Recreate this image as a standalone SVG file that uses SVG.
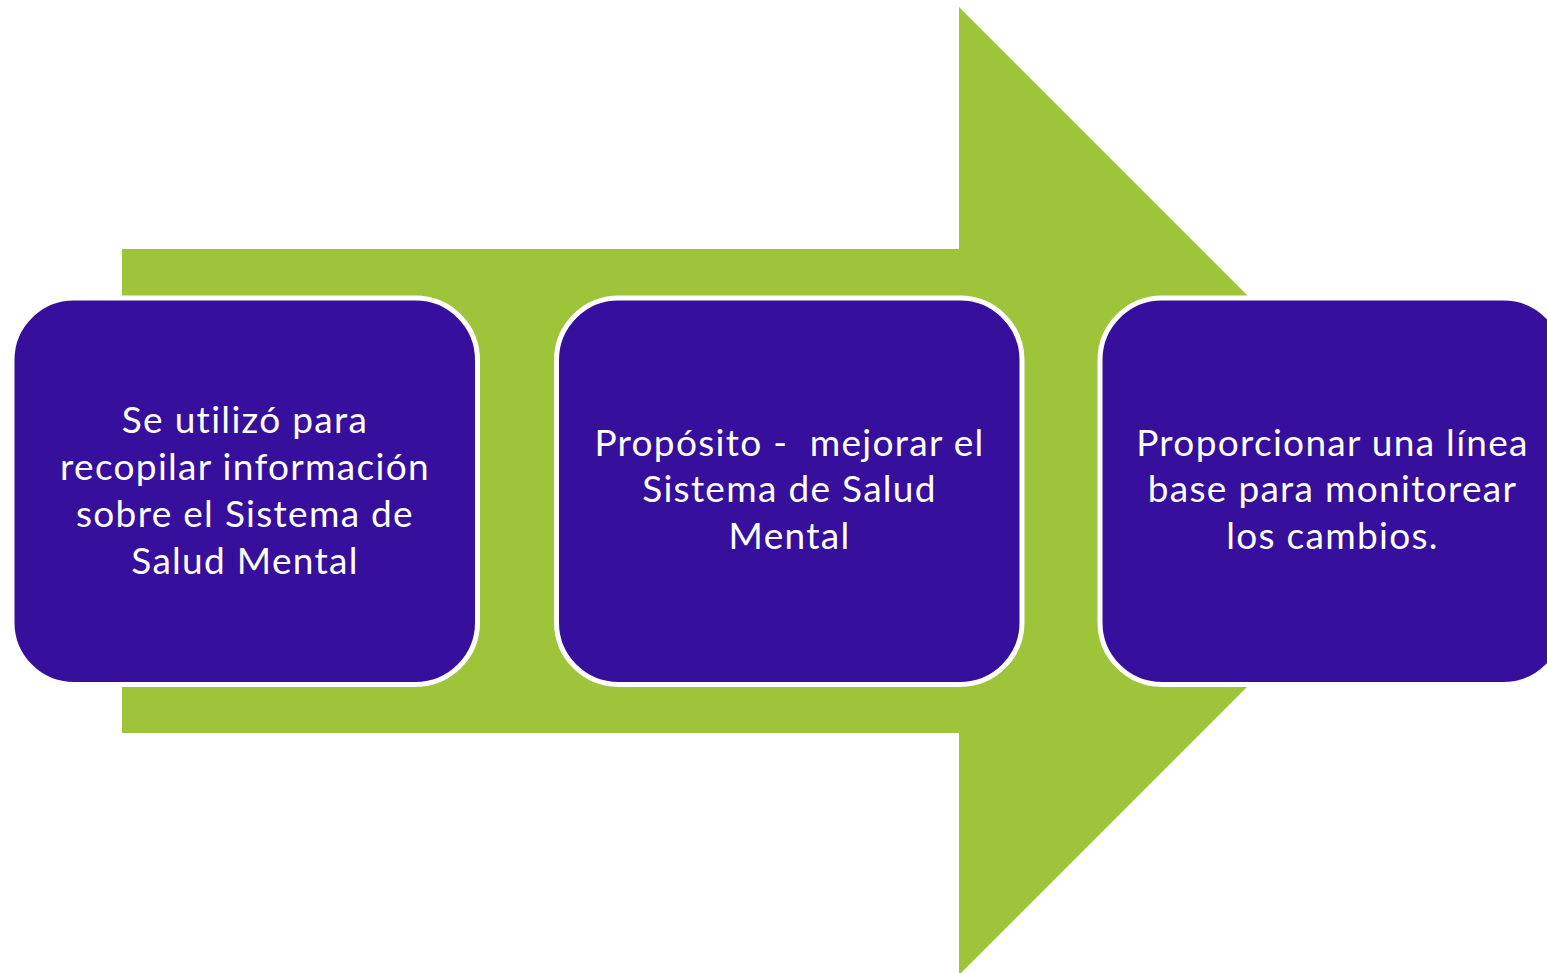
<svg xmlns="http://www.w3.org/2000/svg" width="1547" height="973" viewBox="0 0 1547 973">
<style>
.box{fill:#360F9D;stroke:#FFFFFF;stroke-width:5}
.lbl{fill:#FFFFFF;font-family:Lato,"Open Sans","Liberation Sans",sans-serif;font-size:37px;letter-spacing:1.3px;font-variant-ligatures:none;text-anchor:middle}
</style>
<rect width="1547" height="973" fill="#FFFFFF"/>
<g id="connectors">
<polygon id="arrow" points="122,249 959,249 959,7 1443,491 959,975 959,733 122,733" fill="#9EC43A"/>
</g>
<g id="node1">
<rect class="box" x="12" y="298" width="465.5" height="386.5" rx="62" ry="62"/>
<text class="lbl"><tspan x="245" y="433">Se utilizó para</tspan><tspan x="245" y="480">recopilar información</tspan><tspan x="245" y="527">sobre el Sistema de</tspan><tspan x="245" y="574">Salud Mental</tspan></text>
</g>
<g id="node2">
<rect class="box" x="556.5" y="298" width="465.5" height="386.5" rx="62" ry="62"/>
<text class="lbl" xml:space="preserve"><tspan x="789.5" y="456">Propósito -  mejorar el</tspan><tspan x="789.5" y="502">Sistema de Salud</tspan><tspan x="789.5" y="549">Mental</tspan></text>
</g>
<g id="node3">
<rect class="box" x="1100" y="298" width="465.5" height="386.5" rx="62" ry="62"/>
<text class="lbl"><tspan x="1332.5" y="456">Proporcionar una línea</tspan><tspan x="1332.5" y="502">base para monitorear</tspan><tspan x="1332.5" y="549">los cambios.</tspan></text>
</g>
</svg>
